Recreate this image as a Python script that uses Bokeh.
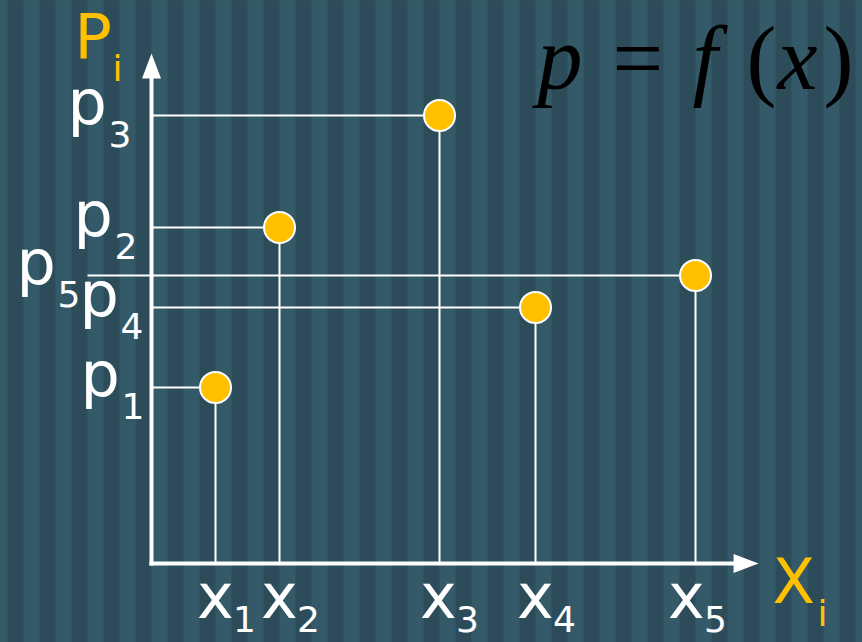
import numpy as np
from bokeh.plotting import figure
from bokeh.models import Range1d, GlobalInlineStyleSheet
from bokeh.core.properties import value
from bokeh.embed import file_html
from bokeh.resources import INLINE

# ---------------- data ----------------
x_vals = [2, 4, 9, 12, 17]            # x1..x5
p_vals = [5.5, 10.5, 14, 8, 9]        # p1..p5
subs = ["1", "2", "3", "4", "5"]
x_letter = "x"
p_letter = "p"
x_title = ("X", "i")
y_title = ("P", "i")
formula_italic = ["p", "f", "x"]
formula_upright = ["=", "(", ")"]

# ---------------- style ----------------
LIGHT = "#345A69"
DARK = "#2D4C59"
YELLOW = "#FFC000"
WHITE = "#FFFFFF"
UNIT = 32.0            # pixels per data unit
PX = 1.0 / UNIT
W, H = 862, 642
OX, OY = 151, 563      # origin position inside the figure (px)

X_AXIS_LEN = 18.97
Y_AXIS_LEN = 15.94
HEAD_LEN = 25 * PX
HEAD_HALF = 9.5 * PX

guide_start = [0, 0, 0, 0, -2.0]          # p5 guide extends past the axis
p_label_dx = [-71, -78, -84, -72, -135]   # px, left of "p" text
x_label_dx = [0, 0, -1, 0, -9]            # px, centre of "x" text

MAIN = "62px"
SUB = "36px"
FONT = value("DejaVu Sans")
SERIF = value("Liberation Serif")
# texts are anchored on their middle; convert wanted baselines (px) to it
MID_MAIN = 0.346 * 62
MID_SUB = 0.346 * 36
MID_SERIF = 0.3375 * 90
TXT = dict(text_align="left", text_baseline="middle")


def base(b, mid):
    """data offset for a text whose baseline should lie b px above a point"""
    return (b + mid) * PX


p = figure(width=W, height=H, output_backend="svg", toolbar_location=None,
           x_range=Range1d(-OX * PX, (W - OX) * PX),
           y_range=Range1d(-(H - OY) * PX, OY * PX),
           x_axis_type=None, y_axis_type=None, min_border=0,
           background_fill_color=LIGHT, border_fill_color=LIGHT,
           outline_line_color=None)
p.grid.visible = False

# striped background
lefts = np.arange(-4.5, 23.0, 1.0)
p.quad(left=lefts, right=lefts + 0.5, bottom=-10, top=30,
       fill_color=DARK, line_color=None)

# guide lines
p.segment(x0=guide_start, y0=p_vals, x1=x_vals, y1=p_vals,
          line_color=WHITE, line_width=2)
p.segment(x0=x_vals, y0=p_vals, x1=x_vals, y1=[0] * len(x_vals),
          line_color=WHITE, line_width=2)

# axes with arrow heads
p.segment(x0=[-2 * PX, 0], y0=[0, -2 * PX],
          x1=[X_AXIS_LEN - HEAD_LEN + PX, 0], y1=[0, Y_AXIS_LEN - HEAD_LEN + PX],
          line_color=WHITE, line_width=4)
p.patches(xs=[[X_AXIS_LEN - HEAD_LEN, X_AXIS_LEN, X_AXIS_LEN - HEAD_LEN],
              [-HEAD_HALF, 0, HEAD_HALF]],
          ys=[[-HEAD_HALF, 0, HEAD_HALF],
              [Y_AXIS_LEN - HEAD_LEN, Y_AXIS_LEN, Y_AXIS_LEN - HEAD_LEN]],
          fill_color=WHITE, line_color=None)

# points
p.scatter(x=x_vals, y=p_vals, size=31, fill_color=YELLOW,
          line_color=WHITE, line_width=2)

# p labels
pdx = np.array(p_label_dx) * PX
pv = np.array(p_vals)
p.text(x=pdx, y=pv + base(-8, MID_MAIN), text=[p_letter] * 5, text_font=FONT,
       text_font_size=MAIN, text_color=WHITE, **TXT)
p.text(x=pdx + 41 * PX, y=pv + base(-31, MID_SUB), text=subs, text_font=FONT,
       text_font_size=SUB, text_color=WHITE, **TXT)

# x labels
xv = np.array(x_vals) + np.array(x_label_dx) * PX
p.text(x=xv - 18.5 * PX, y=[base(-54, MID_MAIN)] * 5, text=[x_letter] * 5,
       text_font=FONT, text_font_size=MAIN, text_color=WHITE, **TXT)
p.text(x=xv + 17.5 * PX, y=[base(-68, MID_SUB)] * 5, text=subs, text_font=FONT,
       text_font_size=SUB, text_color=WHITE, **TXT)

# axis titles
p.text(x=[-77 * PX, 621 * PX], y=[base(506, MID_MAIN), base(-39, MID_MAIN)],
       text=[y_title[0], x_title[0]], text_font=FONT, text_font_size=MAIN,
       text_color=YELLOW, **TXT)
p.text(x=[-39 * PX, 666 * PX], y=[base(483, MID_SUB), base(-62, MID_SUB)],
       text=[y_title[1], x_title[1]], text_font=FONT, text_font_size=SUB,
       text_color=YELLOW, **TXT)

# formula p = f(x)
fy = base(475, MID_SERIF)
p.text(x=[386 * PX, 541 * PX, 626 * PX], y=[fy] * 3, text=formula_italic,
       text_font=SERIF, text_font_size="90px", text_font_style="italic",
       text_color="#000000", **TXT)
p.text(x=[461 * PX, 595 * PX, 672 * PX], y=[fy] * 3, text=formula_upright,
       text_font=SERIF, text_font_size="90px", text_font_style="normal",
       text_color="#000000", **TXT)

p.stylesheets = [GlobalInlineStyleSheet(css=(
    "html,body{margin:0;padding:0;overflow:hidden;"
    "background: repeating-linear-gradient(90deg, "
    "#345A69 0px 7px, #2D4C59 7px 23px, #345A69 23px 32px);}"))]

open("out.html", "w").write(file_html(p, INLINE))
